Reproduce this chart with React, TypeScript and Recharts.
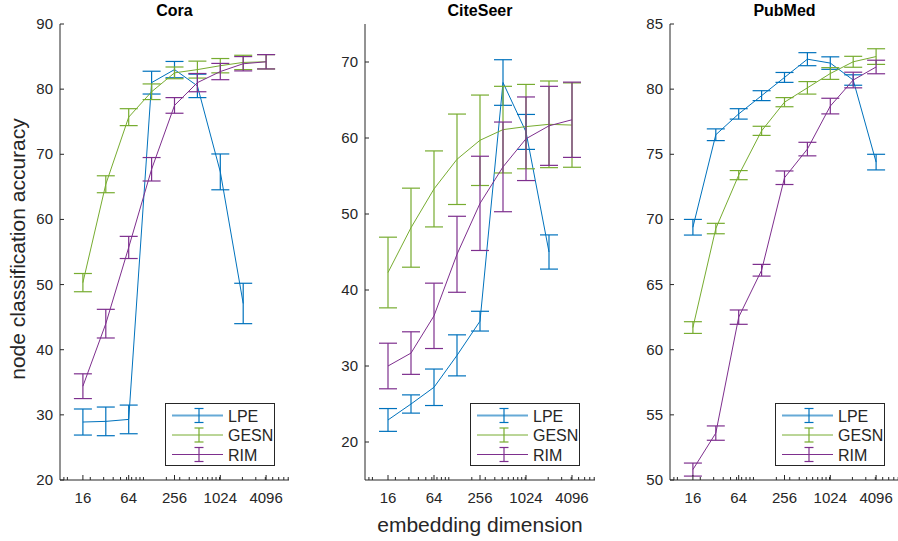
import React from 'react';
import { LineChart, Line, XAxis, YAxis, ErrorBar, Legend } from 'recharts';

const dims = [16, 32, 64, 128, 256, 512, 1024, 2048, 4096];
const majorTicks = [16, 64, 256, 1024, 4096];
const minorTicks = [
  9, 10, 20, 30, 40, 50, 60, 70, 80, 90, 100, 200, 300, 400, 500, 600, 700, 800, 900,
  1000, 2000, 3000, 4000, 5000, 6000, 7000, 8000,
];

// Cora
const coraLpe = [28.9, 29.0, 29.3, 81.0, 83.0, 80.5, 67.3, 47.1];
const coraLpeErr = [2.0, 2.2, 2.2, 1.75, 1.25, 1.8, 2.75, 3.1];
const coraGesn = [50.3, 65.4, 75.7, 79.6, 82.5, 83.0, 83.6, 84.1, 84.2];
const coraGesnErr = [1.4, 1.3, 1.3, 1.2, 0.9, 1.3, 1.1, 1.1, 1.1];
const coraRim = [34.4, 44.0, 55.7, 67.7, 77.5, 81.0, 82.7, 83.9, 84.2];
const coraRimErr = [1.9, 2.2, 1.7, 1.8, 1.2, 1.4, 1.25, 1.1, 1.1];

// CiteSeer
const csLpe = [22.9, 25.0, 27.2, 31.4, 35.9, 67.3, 60.8, 45.0];
const csLpeErr = [1.5, 1.2, 2.4, 2.7, 1.3, 3.0, 2.3, 2.25];
const csGesn = [42.3, 48.2, 53.3, 57.2, 59.7, 61.1, 61.5, 61.8, 61.7];
const csGesnErr = [4.65, 5.2, 5.0, 5.95, 5.95, 5.7, 5.55, 5.7, 5.55];
const csRim = [30.0, 31.7, 36.6, 44.7, 51.4, 56.2, 59.9, 61.6, 62.4];
const csRimErr = [3.0, 2.8, 4.3, 5.0, 6.2, 5.9, 5.5, 5.2, 4.95];

// PubMed
const pmLpe = [69.4, 76.5, 78.1, 79.5, 80.9, 82.3, 82.0, 80.7, 74.4];
const pmLpeErr = [0.6, 0.45, 0.4, 0.38, 0.38, 0.5, 0.48, 0.4, 0.6];
const pmGesn = [61.7, 69.3, 73.4, 76.8, 79.0, 80.1, 81.2, 82.1, 82.5];
const pmGesnErr = [0.45, 0.4, 0.35, 0.35, 0.35, 0.48, 0.45, 0.42, 0.6];
const pmRim = [50.8, 53.6, 62.5, 66.1, 73.2, 75.4, 78.7, 80.7, 81.7];
const pmRimErr = [0.5, 0.55, 0.55, 0.45, 0.52, 0.52, 0.6, 0.6, 0.52];

const seriesNames = ['LPE', 'GESN', 'RIM'];
const colors = ['#0072BD', '#77AC30', '#7E2F8E'];

const AXIS = '#262626';
const FONT = '"Liberation Sans", Arial, Helvetica, sans-serif';
const xTicks = [...majorTicks, ...minorTicks].sort((a, b) => a - b);

function rows(vals: number[], errs: number[]) {
  return vals.map((v, i) => ({ x: dims[i], y: v, err: errs[i] }));
}

function BottomTick({ x, y, payload }: any) {
  const major = majorTicks.includes(payload.value);
  return (
    <g>
      <line x1={x} x2={x} y1={y} y2={y - (major ? 5 : 3)} stroke={AXIS} />
      {major && (
        <text x={x} y={y + 23} textAnchor="middle" fontSize={15} fill={AXIS} fontFamily={FONT}>
          {payload.value}
        </text>
      )}
    </g>
  );
}

function TopTick({ x, y, payload }: any) {
  const major = majorTicks.includes(payload.value);
  return <line x1={x} x2={x} y1={y} y2={y + (major ? 5 : 3)} stroke={AXIS} />;
}

function LeftTick({ x, y, payload }: any) {
  return (
    <g>
      <line x1={x} x2={x + 4} y1={y} y2={y} stroke={AXIS} />
      <text x={x - 7} y={y + 5} textAnchor="end" fontSize={15} fill={AXIS} fontFamily={FONT}>
        {payload.value}
      </text>
    </g>
  );
}

function RightTick({ x, y }: any) {
  return <line x1={x} x2={x - 4} y1={y} y2={y} stroke={AXIS} />;
}

function LegendBox() {
  return (
    <svg width={110} height={63} style={{ display: 'block' }}>
      <rect x={0.5} y={0.5} width={109} height={62} fill="#fff" stroke={AXIS} />
      {seriesNames.map((name, i) => {
        const cy = 12.5 + i * 19.5;
        return (
          <g key={name}>
            <line
              x1={7}
              x2={58}
              y1={cy}
              y2={cy}
              stroke={colors[i]}
              strokeWidth={i === 0 ? 2 : 1}
              strokeOpacity={i === 0 ? 0.6 : 1}
            />
            <line x1={34} x2={34} y1={cy - 7} y2={cy + 7} stroke={colors[i]} strokeWidth={1.2} />
            <line x1={29.5} x2={38.5} y1={cy - 7} y2={cy - 7} stroke={colors[i]} strokeWidth={1.2} />
            <line x1={29.5} x2={38.5} y1={cy + 7} y2={cy + 7} stroke={colors[i]} strokeWidth={1.2} />
            <text x={63} y={cy + 6} fontSize={16} fill={AXIS} fontFamily={FONT}>
              {name}
            </text>
          </g>
        );
      })}
    </svg>
  );
}

interface PanelProps {
  title: string;
  left: number;
  marginRight: number;
  yDomain: [number, number];
  yTicks: number[];
  series: { vals: number[]; errs: number[] }[];
}

function Panel({ title, left, marginRight, yDomain, yTicks, series }: PanelProps) {
  const plotLeft = 60;
  const plotWidth = 300 - plotLeft - marginRight;
  return (
    <div style={{ position: 'absolute', left, top: 0, width: 300, height: 541 }}>
      <div
        style={{
          position: 'absolute',
          left: plotLeft,
          width: plotWidth,
          top: 2,
          textAlign: 'center',
          fontFamily: FONT,
          fontWeight: 'bold',
          fontSize: 16,
          color: '#000',
        }}
      >
        {title}
      </div>
      <LineChart width={300} height={541} margin={{ top: 24, right: marginRight, bottom: 31, left: 20 }}>
        <XAxis
          dataKey="x"
          type="number"
          scale="log"
          domain={[8, 8192]}
          allowDataOverflow
          ticks={xTicks}
          interval={0}
          tickSize={0}
          tickMargin={0}
          tick={<BottomTick />}
          stroke={AXIS}
          height={30}
        />
        <XAxis
          xAxisId="top"
          orientation="top"
          dataKey="x"
          type="number"
          scale="log"
          domain={[8, 8192]}
          allowDataOverflow
          ticks={xTicks}
          interval={0}
          tickSize={0}
          tickMargin={0}
          tick={<TopTick />}
          stroke={AXIS}
          height={0}
        />
        <YAxis
          type="number"
          domain={yDomain}
          allowDataOverflow
          ticks={yTicks}
          interval={0}
          tickSize={0}
          tickMargin={0}
          tick={<LeftTick />}
          stroke={AXIS}
          width={40}
        />
        <YAxis
          yAxisId="right"
          orientation="right"
          type="number"
          domain={yDomain}
          allowDataOverflow
          ticks={yTicks}
          interval={0}
          tickSize={0}
          tickMargin={0}
          tick={<RightTick />}
          stroke={AXIS}
          width={0}
        />
        {series.map((s, i) => (
          <Line
            key={seriesNames[i]}
            data={rows(s.vals, s.errs)}
            dataKey="y"
            type="linear"
            stroke={colors[i]}
            strokeWidth={1}
            dot={false}
            isAnimationActive={false}
          >
            <ErrorBar dataKey="err" width={9} stroke={colors[i]} strokeWidth={1.2} direction="y" isAnimationActive={false} />
          </Line>
        ))}
        <Legend
          layout="vertical"
          align="center"
          verticalAlign="middle"
          content={() => <LegendBox />}
          wrapperStyle={{ left: 165, top: 403, width: 110, height: 63 }}
        />
      </LineChart>
    </div>
  );
}

export default function App() {
  return (
    <div
      style={{
        position: 'absolute',
        left: 0,
        top: 0,
        width: 898,
        height: 541,
        overflow: 'hidden',
        background: '#fff',
      }}
    >
      <Panel
        title="Cora"
        left={0}
        marginRight={11}
        yDomain={[20, 90]}
        yTicks={[20, 30, 40, 50, 60, 70, 80, 90]}
        series={[
          { vals: coraLpe, errs: coraLpeErr },
          { vals: coraGesn, errs: coraGesnErr },
          { vals: coraRim, errs: coraRimErr },
        ]}
      />
      <Panel
        title="CiteSeer"
        left={305}
        marginRight={10}
        yDomain={[15, 75]}
        yTicks={[20, 30, 40, 50, 60, 70]}
        series={[
          { vals: csLpe, errs: csLpeErr },
          { vals: csGesn, errs: csGesnErr },
          { vals: csRim, errs: csRimErr },
        ]}
      />
      <Panel
        title="PubMed"
        left={610}
        marginRight={11}
        yDomain={[50, 85]}
        yTicks={[50, 55, 60, 65, 70, 75, 80, 85]}
        series={[
          { vals: pmLpe, errs: pmLpeErr },
          { vals: pmGesn, errs: pmGesnErr },
          { vals: pmRim, errs: pmRimErr },
        ]}
      />
      <div
        style={{
          position: 'absolute',
          left: 18 - 200,
          top: 249 - 13,
          width: 400,
          lineHeight: '26px',
          textAlign: 'center',
          transform: 'rotate(-90deg)',
          fontFamily: FONT,
          fontSize: 21,
          color: AXIS,
        }}
      >
        node classification accuracy
      </div>
      <div
        style={{
          position: 'absolute',
          left: 330,
          top: 512,
          width: 300,
          lineHeight: '26px',
          textAlign: 'center',
          fontFamily: FONT,
          fontSize: 21,
          color: AXIS,
        }}
      >
        embedding dimension
      </div>
    </div>
  );
}
